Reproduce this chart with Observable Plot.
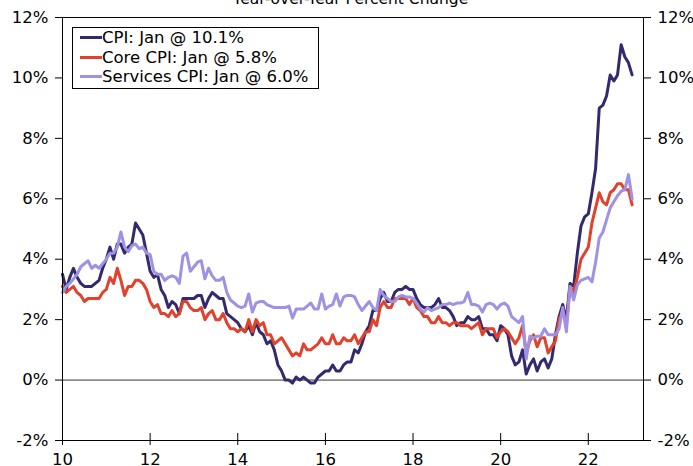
<!DOCTYPE html>
<html><head><meta charset="utf-8">
<script src="https://cdn.jsdelivr.net/npm/d3@7"></script>
<script src="https://cdn.jsdelivr.net/npm/@observablehq/plot@0.6"></script>
<style>
body{margin:0;background:#fff;font-family:"DejaVu Sans",Verdana,sans-serif;}
#wrap{position:relative;width:693px;height:466px;overflow:hidden;background:#fff;}
#title{position:absolute;left:60px;width:581px;text-align:center;top:-10px;font-size:15.5px;line-height:18px;color:#000;white-space:nowrap;}
#legend{position:absolute;left:72px;top:27px;border:1px solid #000;background:#fff;padding:0 10px 1px 7px;font-size:16.5px;color:#000;}
.row{display:flex;align-items:center;height:19.5px;white-space:nowrap;}
.sw{width:22px;height:3px;margin-right:0px;}
</style></head><body>
<div id="wrap"><div id="chart"></div><div id="title">Year-over-Year Percent Change</div><div id="legend"></div></div>
<script>
// Monthly, Jan 2010 .. Jan 2023 (x axis in two-digit years)
const startYear = 10;
const xTicks = [10, 12, 14, 16, 18, 20, 22];
const yTicks = [-2, 0, 2, 4, 6, 8, 10, 12];
const seriesNames = ["CPI: Jan @ 10.1%", "Core CPI: Jan @ 5.8%", "Services CPI: Jan @ 6.0%"];
const seriesColors = ["#332a6e", "#e2412b", "#9f91e3"];

const cpi = [
  3.5,3.0,3.4,3.7,3.4,3.2,3.1,3.1,3.1,3.2,3.3,3.7,
  4.0,4.4,4.0,4.5,4.5,4.2,4.4,4.5,5.2,5.0,4.8,4.2,
  3.6,3.4,3.5,3.0,2.8,2.4,2.6,2.5,2.2,2.7,2.7,2.7,
  2.7,2.8,2.8,2.4,2.7,2.9,2.8,2.7,2.7,2.2,2.1,2.0,
  1.9,1.7,1.6,1.8,1.5,1.9,1.6,1.5,1.2,1.3,1.0,0.5,
  0.3,0.0,0.0,-0.1,0.1,0.0,0.1,0.0,-0.1,-0.1,0.1,0.2,
  0.3,0.3,0.5,0.3,0.3,0.5,0.6,0.6,1.0,0.9,1.2,1.6,
  1.8,2.3,2.3,2.7,2.9,2.6,2.6,2.9,3.0,3.0,3.1,3.0,
  3.0,2.7,2.5,2.4,2.4,2.4,2.5,2.7,2.4,2.4,2.3,2.1,
  1.8,1.9,1.9,2.1,2.0,2.0,2.1,1.7,1.7,1.5,1.5,1.3,
  1.8,1.7,1.5,0.8,0.5,0.6,1.0,0.2,0.5,0.7,0.3,0.6,
  0.7,0.4,0.7,1.5,2.1,2.5,2.0,3.2,3.1,4.2,5.1,5.4,
  5.5,6.2,7.0,9.0,9.1,9.4,10.1,9.9,10.1,11.1,10.7,10.5,
  10.1
];
const core = [
  3.1,2.9,3.0,3.1,2.9,2.8,2.6,2.7,2.7,2.7,2.7,2.9,
  3.0,3.4,3.2,3.7,3.3,2.8,3.1,3.1,3.3,3.3,3.2,3.0,
  2.6,2.4,2.5,2.2,2.2,2.1,2.3,2.1,2.2,2.6,2.6,2.4,
  2.3,2.3,2.4,2.0,2.2,2.3,2.0,2.0,2.2,1.9,1.7,1.7,
  1.6,1.7,1.6,2.0,1.6,2.0,1.8,1.9,1.5,1.5,1.2,1.3,
  1.4,1.2,1.0,0.8,0.9,0.8,1.2,1.0,1.0,1.1,1.2,1.4,
  1.2,1.2,1.5,1.2,1.2,1.4,1.3,1.3,1.5,1.2,1.4,1.6,
  1.6,2.0,1.8,2.4,2.6,2.4,2.4,2.7,2.7,2.7,2.7,2.5,
  2.7,2.4,2.3,2.1,2.1,1.9,1.9,2.1,1.9,1.9,1.8,1.9,
  1.9,1.8,1.8,1.8,1.7,1.8,1.9,1.5,1.7,1.7,1.7,1.4,
  1.6,1.7,1.6,1.4,1.2,1.4,1.8,0.9,1.3,1.5,1.1,1.4,
  1.4,0.9,1.1,1.3,2.0,2.3,1.8,3.1,2.9,3.4,4.0,4.2,
  4.4,5.2,5.7,6.2,5.9,5.8,6.2,6.3,6.5,6.5,6.3,6.3,
  5.8
];
const services = [
  2.9,3.1,3.2,3.35,3.5,3.75,3.85,3.95,3.7,3.8,3.7,3.85,
  4.0,4.2,4.2,4.4,4.9,4.4,4.25,4.45,4.5,4.35,4.4,4.2,
  4.15,3.6,3.5,3.5,3.3,3.4,3.45,3.4,3.2,4.1,4.2,3.6,
  3.75,3.9,3.95,3.35,3.7,3.45,3.3,3.3,3.4,2.9,2.65,2.55,
  2.45,2.4,2.45,2.85,2.25,2.55,2.6,2.6,2.5,2.45,2.4,2.4,
  2.4,2.4,2.45,2.05,2.35,2.35,2.35,2.45,2.55,2.35,2.35,2.85,
  2.35,2.45,2.5,2.85,2.45,2.75,2.8,2.8,2.75,2.5,2.3,2.45,
  2.6,2.4,2.3,3.0,2.8,2.7,2.6,2.6,2.75,2.8,2.75,2.75,
  2.7,2.55,2.35,2.25,2.4,2.3,2.35,2.4,2.5,2.5,2.55,2.5,
  2.55,2.55,2.6,2.9,2.5,2.5,2.45,2.25,2.5,2.55,2.5,2.35,
  2.5,2.55,2.45,2.1,2.0,1.9,2.1,0.7,1.45,1.4,1.45,1.45,
  1.7,1.5,1.5,1.5,1.7,2.4,1.6,3.1,2.65,3.15,3.3,3.35,
  3.4,3.25,3.9,4.7,4.9,5.3,5.7,5.9,6.1,6.25,6.3,6.8,
  6.0
];
const seriesValues = [cpi, core, services];

const W = 693, H = 466, mL = 62, mR = 50, mT = 17, mB = 26;
const plotH = H - mT - mB;

const lineMarks = seriesValues.map((vals, k) =>
  Plot.line(vals, {x: (d, i) => startYear + i / 12, y: d => d, stroke: seriesColors[k], strokeWidth: 3, strokeLinejoin: "round"})
);

const chart = Plot.plot({
  width: W, height: H,
  marginLeft: mL, marginRight: mR, marginTop: mT, marginBottom: mB,
  style: {fontFamily: "'DejaVu Sans', Verdana, sans-serif", fontSize: "16.5px", color: "#000", background: "#fff", overflow: "visible"},
  x: {domain: [10, 23.26]},
  y: {domain: [-2, 12]},
  marks: [
    Plot.ruleY([0], {stroke: "#333", strokeWidth: 1}),
    ...lineMarks,
    Plot.frame({stroke: "#000"}),
    Plot.axisY(yTicks, {anchor: "left", tickSize: 7, tickPadding: 7, tickFormat: d => d + "%"}),
    Plot.axisY(yTicks, {anchor: "right", tickSize: 7, tickPadding: 7, tickFormat: d => d + "%"}),
    Plot.axisX(xTicks, {anchor: "bottom", tickSize: 5, tickPadding: 8, tickFormat: d => String(d)}),
    Plot.tickX(xTicks, {x: d => d, insetTop: plotH - 7, stroke: "#000"})
  ]
});
document.getElementById("chart").appendChild(chart);

const legend = document.getElementById("legend");
seriesNames.forEach((name, k) => {
  const row = document.createElement("div");
  row.className = "row";
  const sw = document.createElement("span");
  sw.className = "sw";
  sw.style.background = seriesColors[k];
  const t = document.createElement("span");
  t.textContent = name;
  row.appendChild(sw); row.appendChild(t);
  legend.appendChild(row);
});
</script>
</body></html>
